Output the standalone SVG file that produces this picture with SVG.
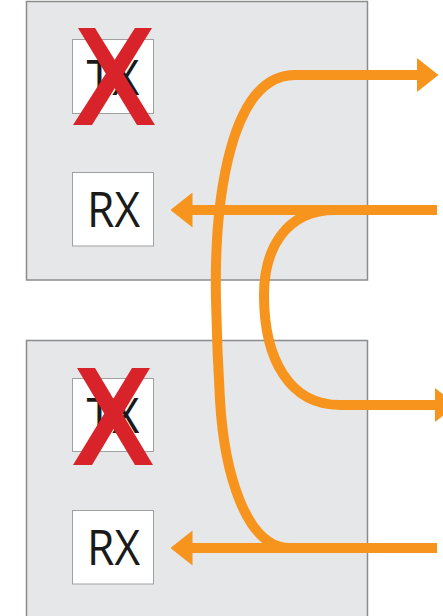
<svg xmlns="http://www.w3.org/2000/svg" width="443" height="616" viewBox="0 0 443 616">
  <style>
    .panel { fill: #e6e7e9; stroke: #8c8c8c; stroke-width: 1.5; }
    .port { fill: #ffffff; stroke: #a0a0a0; stroke-width: 1; }
    .lbl { font-family: "Open Sans", "Liberation Sans", sans-serif; font-size: 49px; fill: #1a1a1a; text-anchor: middle; }
    .cross { fill: #d8232a; }
    .wire { fill: none; stroke: #f7941d; stroke-width: 10; stroke-linecap: butt; }
  </style>
  <defs>
    <marker id="arrow" markerUnits="userSpaceOnUse" viewBox="0 -18 22 36" markerWidth="22" markerHeight="36" refX="0.5" refY="0" orient="auto">
      <path d="M0,-17.5 L22,0 L0,17.5 z" fill="#f7941d"/>
    </marker>
  </defs>
  <rect width="443" height="616" fill="#ffffff"/>

  <g id="device-top">
    <rect class="panel" x="26.5" y="1.5" width="341" height="278.5"/>
    <g id="tx-top">
      <rect class="port" x="72.5" y="39.5" width="81" height="74"/>
      <text class="lbl" x="113" y="95" textLength="53" lengthAdjust="spacingAndGlyphs">TX</text>
      <polygon class="cross" points="78,28 95,28 155,125 137,125"/>
      <polygon class="cross" points="135,28 152,28 92,125 73,125"/>
    </g>
    <g id="rx-top">
      <rect class="port" x="72.5" y="172.5" width="81" height="73.5"/>
      <text class="lbl" x="113.5" y="227" textLength="53" lengthAdjust="spacingAndGlyphs">RX</text>
    </g>
  </g>

  <g id="device-bottom">
    <rect class="panel" x="26.5" y="340.5" width="341" height="290"/>
    <g id="tx-bottom">
      <rect class="port" x="72.5" y="378.5" width="81" height="73"/>
      <text class="lbl" x="113" y="433" textLength="53" lengthAdjust="spacingAndGlyphs">TX</text>
      <polygon class="cross" points="77,368 95,368 153,465 135,465"/>
      <polygon class="cross" points="132,368 150,368 92,465 73,465"/>
    </g>
    <g id="rx-bottom">
      <rect class="port" x="72.5" y="510.5" width="81" height="73.5"/>
      <text class="lbl" x="113.5" y="565" textLength="53" lengthAdjust="spacingAndGlyphs">RX</text>
    </g>
  </g>

  <g id="connectors">
    <path class="wire" d="M437,210 L192,210" marker-end="url(#arrow)"/>
    <path class="wire" d="M437,548 L192,548" marker-end="url(#arrow)"/>
    <path class="wire" d="M290,548 C245,548 224,470 220,400 C217,350 216.6,330 216,300 C214,200 230,75 295,75 L417,75" marker-end="url(#arrow)"/>
    <path class="wire" d="M335,210 C285,210 264,250 264,295 C264,360 290,405 340,405 L435,405" marker-end="url(#arrow)"/>
  </g>
</svg>
